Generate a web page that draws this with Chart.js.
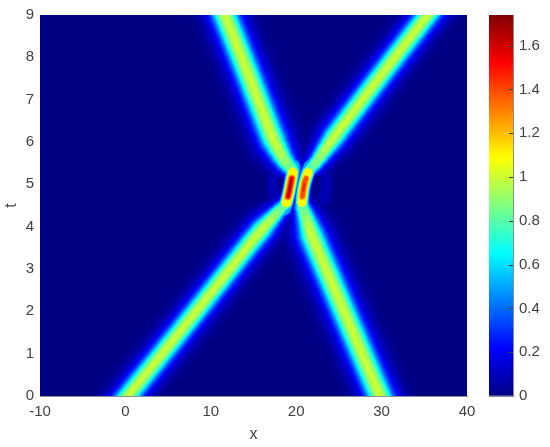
<!DOCTYPE html>
<html>
<head>
<meta charset="utf-8">
<script src="https://cdn.jsdelivr.net/npm/chart.js@4/dist/chart.umd.min.js"></script>
<style>
  body { margin: 0; background: #fff; }
  canvas { position: absolute; top: 0; }
</style>
</head>
<body>
<canvas id="mapChart" width="550" height="447" style="left:0"></canvas>
<canvas id="barChart" width="70" height="447" style="left:480px"></canvas>
<script>
const xTicks = [-10, 0, 10, 20, 30, 40];
const tTicks = [0, 1, 2, 3, 4, 5, 6, 7, 8, 9];
const barTicks = [0, 0.2, 0.4, 0.6, 0.8, 1, 1.2, 1.4, 1.6];
const maxValue = 1.74;

// ridge centres (run past the frame so the ends get clipped)
const lowerLeftX = [-3.7, 0.3, 7.5, 14.6, 16.06];
const lowerLeftT = [-1, 0, 1.8, 3.6, 3.95];
const lowerRightX = [31.9, 29.8, 25.6, 22.55, 21.8];
const lowerRightT = [-1, 0, 2, 3.44, 3.8];
const upperLeftX = [9.74, 11.66, 14.2, 16.9, 17.35];
const upperLeftT = [10, 9, 7.7, 6.27, 6.05];
const upperRightX = [39.2, 35.4, 30.4, 25.5, 24.37];
const upperRightT = [10, 9, 7.7, 6.4, 6.1];

// where the ridges thin out into the crescents
const lowerLeftNeckX = [16.06, 16.5, 17.0, 17.5, 18.05, 18.6];
const lowerLeftNeckT = [3.95, 4.05, 4.16, 4.27, 4.39, 4.5];
const lowerRightNeckX = [21.8, 21.6, 21.4, 21.2, 20.98, 20.75];
const lowerRightNeckT = [3.8, 3.93, 4.06, 4.19, 4.32, 4.45];
const upperLeftNeckX = [17.35, 17.8, 18.25, 18.7, 19.15, 19.55];
const upperLeftNeckT = [6.05, 5.87, 5.7, 5.55, 5.44, 5.35];
const upperRightNeckX = [24.37, 23.85, 23.3, 22.8, 22.25, 21.7];
const upperRightNeckT = [6.1, 5.95, 5.8, 5.65, 5.5, 5.38];

// crescents at the collision
const leftCoreX = [19.68, 19.6, 19.48, 19.34, 19.2, 19.04, 18.85, 18.62];
const leftCoreT = [5.42, 5.28, 5.14, 5.0, 4.85, 4.71, 4.57, 4.43];
const rightCoreX = [21.67, 21.38, 21.15, 20.95, 20.82, 20.73, 20.68, 20.68];
const rightCoreT = [5.42, 5.28, 5.14, 5.0, 4.85, 4.71, 4.57, 4.43];

// dark spots beside the crescents and the faint rings behind them
const leftNotchX = [18.2, 18.1];
const leftNotchT = [5.1, 4.85];
const rightNotchX = [22.5, 22.45];
const rightNotchT = [5.15, 4.9];
const leftRingX = [17.6, 17.3, 17.5];
const leftRingT = [5.4, 5.0, 4.6];
const rightRingX = [23.2, 23.5, 23.3];
const rightRingT = [5.45, 5.05, 4.65];

// colour level and half width in px of the ridge cross section
const ridgeLevels = [0.02, 0.05, 0.08, 0.12, 0.16, 0.2, 0.25, 0.3, 0.35, 0.4, 0.45, 0.5, 0.55, 0.6, 0.65, 0.7, 0.75, 0.8, 0.85, 0.9, 0.95, 1.0];
const ridgeHalf = [36, 30, 27, 24, 21.5, 19.5, 18, 16.5, 15.3, 14.2, 13.3, 12.4, 11.6, 10.8, 10, 9.2, 8.4, 7.6, 6.7, 5.6, 4, 2];
// each neck stage reaches one point further, thinner and with a lower top level
const neckScale = [0.92, 0.84, 0.76, 0.68, 0.6];
const neckTop = [1.0, 0.95, 0.9, 0.85, 0.8];

const leftLevels = [0.1, 0.2, 0.3, 0.4, 0.5, 0.65, 0.8, 0.95, 1.1, 1.2, 1.3, 1.4, 1.5, 1.6, 1.7];
const leftHalf = [8.5, 7.8, 7.2, 6.8, 6.4, 6, 5.6, 5.1, 4.4, 3.8, 3.2, 2.6, 2, 1.4, 0.9];
const leftTrim = [0, 0, 0, 0, 0, 1, 1, 1, 1, 2, 2, 2, 2, 2, 3];
const rightLevels = [0.1, 0.2, 0.3, 0.4, 0.5, 0.65, 0.8, 0.95, 1.1, 1.2, 1.3, 1.4, 1.48];
const rightHalf = [8.5, 7.8, 7.2, 6.8, 6.4, 5.9, 5.4, 4.8, 4, 3.4, 2.7, 1.9, 1];
const rightTrim = [0, 0, 0, 0, 0, 1, 1, 1, 1, 2, 2, 2, 3];

const jetStops = [[0, '#000085'], [0.125, '#0000ff'], [0.375, '#00ffff'], [0.625, '#ffff00'], [0.875, '#ff0000'], [1, '#800000']];

function jetColor(value) {
  const p = Math.min(value / maxValue, 1);
  for (let i = 1; i < jetStops.length; i++) {
    if (p <= jetStops[i][0]) {
      const f = (p - jetStops[i - 1][0]) / (jetStops[i][0] - jetStops[i - 1][0]);
      const a = parseInt(jetStops[i - 1][1].slice(1), 16);
      const b = parseInt(jetStops[i][1].slice(1), 16);
      const mix = s => Math.round(((a >> s) & 255) * (1 - f) + ((b >> s) & 255) * f);
      return `rgb(${mix(16)},${mix(8)},${mix(0)})`;
    }
  }
  return jetStops[jetStops.length - 1][1];
}

function toPoints(xs, ts, trim) {
  return xs.map((x, i) => ({ x: x, y: ts[i] })).slice(trim, xs.length - trim);
}

function layer(level, width, points, color) {
  return {
    level: level,
    data: points,
    borderColor: color || jetColor(level),
    borderWidth: width,
    borderCapStyle: 'round',
    borderJoinStyle: 'round',
    pointRadius: 0,
    tension: 0.3,
    clip: 0
  };
}

const layers = [];
const ridges = [
  { xs: lowerLeftX, ts: lowerLeftT, nx: lowerLeftNeckX, nt: lowerLeftNeckT, tilt: 0.78 },
  { xs: lowerRightX, ts: lowerRightT, nx: lowerRightNeckX, nt: lowerRightNeckT, tilt: 0.92 },
  { xs: upperLeftX, ts: upperLeftT, nx: upperLeftNeckX, nt: upperLeftNeckT, tilt: 0.92 },
  { xs: upperRightX, ts: upperRightT, nx: upperRightNeckX, nt: upperRightNeckT, tilt: 0.79 }
];
ridges.forEach(r => {
  ridgeLevels.forEach((lv, i) => {
    layers.push(layer(lv, ridgeHalf[i] * 2 * r.tilt, toPoints(r.xs, r.ts, 0)));
    neckScale.forEach((scale, k) => {
      if (lv > neckTop[k]) return;
      const pts = toPoints(r.nx, r.nt, 0).slice(0, k + 2);
      layers.push(layer(lv, ridgeHalf[i] * 2 * r.tilt * scale, pts));
    });
  });
});
leftLevels.forEach((lv, i) => layers.push(layer(lv, leftHalf[i] * 2, toPoints(leftCoreX, leftCoreT, leftTrim[i]))));
rightLevels.forEach((lv, i) => layers.push(layer(lv, rightHalf[i] * 2, toPoints(rightCoreX, rightCoreT, rightTrim[i]))));

// faint rings, then the dark spots on top of them
layers.push(layer(0.05, 14, toPoints(leftRingX, leftRingT, 0)));
layers.push(layer(0.08, 9, toPoints(leftRingX, leftRingT, 0)));
layers.push(layer(0.05, 14, toPoints(rightRingX, rightRingT, 0)));
layers.push(layer(0.08, 9, toPoints(rightRingX, rightRingT, 0)));
layers.push(layer(0.19, 6, toPoints(leftNotchX, leftNotchT, 0), '#00009a'));
layers.push(layer(0.195, 4, toPoints(leftNotchX, leftNotchT, 0), jetStops[0][1]));
layers.push(layer(0.19, 6, toPoints(rightNotchX, rightNotchT, 0), '#00009a'));
layers.push(layer(0.195, 4, toPoints(rightNotchX, rightNotchT, 0), jetStops[0][1]));

// first dataset is painted last, so highest level goes first
layers.sort((a, b) => b.level - a.level);

const textColor = '#404040';
const tickFont = { family: '"Liberation Sans", Arial, sans-serif', size: 15 };

const plotBackground = {
  id: 'plotBackground',
  beforeDatasetsDraw(chart) {
    const a = chart.chartArea;
    chart.ctx.fillStyle = jetStops[0][1];
    chart.ctx.fillRect(a.left, a.top, a.width, a.height);
  }
};

new Chart(document.getElementById('mapChart'), {
  type: 'line',
  data: { datasets: layers },
  plugins: [plotBackground],
  options: {
    responsive: false,
    animation: false,
    layout: { padding: { top: 14, right: 83, left: 2, bottom: 0 } },
    plugins: { legend: { display: false }, tooltip: { enabled: false } },
    scales: {
      x: {
        type: 'linear',
        min: -10,
        max: 40,
        afterBuildTicks: s => { s.ticks = xTicks.map(v => ({ value: v })); },
        afterFit: s => { s.height = 51; },
        grid: { drawOnChartArea: false, drawTicks: false },
        border: { color: '#8c8c9c' },
        ticks: { color: textColor, font: tickFont, padding: 7, maxRotation: 0, callback: v => String(v) },
        title: { display: true, text: 'x', color: textColor, font: { family: tickFont.family, size: 16 }, padding: { top: 1, bottom: 3 } }
      },
      y: {
        type: 'linear',
        min: 0,
        max: 9,
        afterBuildTicks: s => { s.ticks = tTicks.map(v => ({ value: v })); },
        afterFit: s => { s.width = 38; },
        grid: { drawOnChartArea: false, drawTicks: false },
        border: { color: '#8c8c8c' },
        ticks: { color: textColor, font: tickFont, padding: 6, callback: v => String(v) },
        title: { display: true, text: 't', color: textColor, font: { family: tickFont.family, size: 16 }, padding: 0 }
      }
    }
  }
});

const barTickMarks = {
  id: 'barTickMarks',
  afterDatasetsDraw(chart) {
    const ctx = chart.ctx;
    const a = chart.chartArea;
    ctx.strokeStyle = '#404040';
    ctx.lineWidth = 1;
    barTicks.slice(1).forEach(v => {
      const py = Math.round(chart.scales.y.getPixelForValue(v)) + 0.5;
      ctx.beginPath();
      ctx.moveTo(a.right - 4, py);
      ctx.lineTo(a.right, py);
      ctx.stroke();
    });
  }
};

new Chart(document.getElementById('barChart'), {
  type: 'bar',
  data: {
    labels: ['value'],
    datasets: [{
      data: [[0, maxValue]],
      barPercentage: 1,
      categoryPercentage: 1,
      backgroundColor: c => {
        const a = c.chart.chartArea;
        if (!a) return jetStops[0][1];
        const g = c.chart.ctx.createLinearGradient(0, a.bottom, 0, a.top);
        jetStops.forEach(s => g.addColorStop(s[0], s[1]));
        return g;
      }
    }]
  },
  plugins: [barTickMarks],
  options: {
    responsive: false,
    animation: false,
    layout: { padding: { top: 14, left: 9, right: 0, bottom: 0 } },
    plugins: { legend: { display: false }, tooltip: { enabled: false } },
    scales: {
      x: {
        display: true,
        afterFit: s => { s.height = 51; },
        grid: { display: false },
        border: { color: '#8c8c8c' },
        ticks: { display: false }
      },
      y: {
        position: 'right',
        min: 0,
        max: maxValue,
        afterBuildTicks: s => { s.ticks = barTicks.map(v => ({ value: v })); },
        afterFit: s => { s.width = 37; },
        grid: { drawOnChartArea: false, drawTicks: false },
        border: { color: '#8c8c8c' },
        ticks: { color: textColor, font: tickFont, padding: 6, callback: v => String(v) }
      }
    }
  }
});
</script>
</body>
</html>
